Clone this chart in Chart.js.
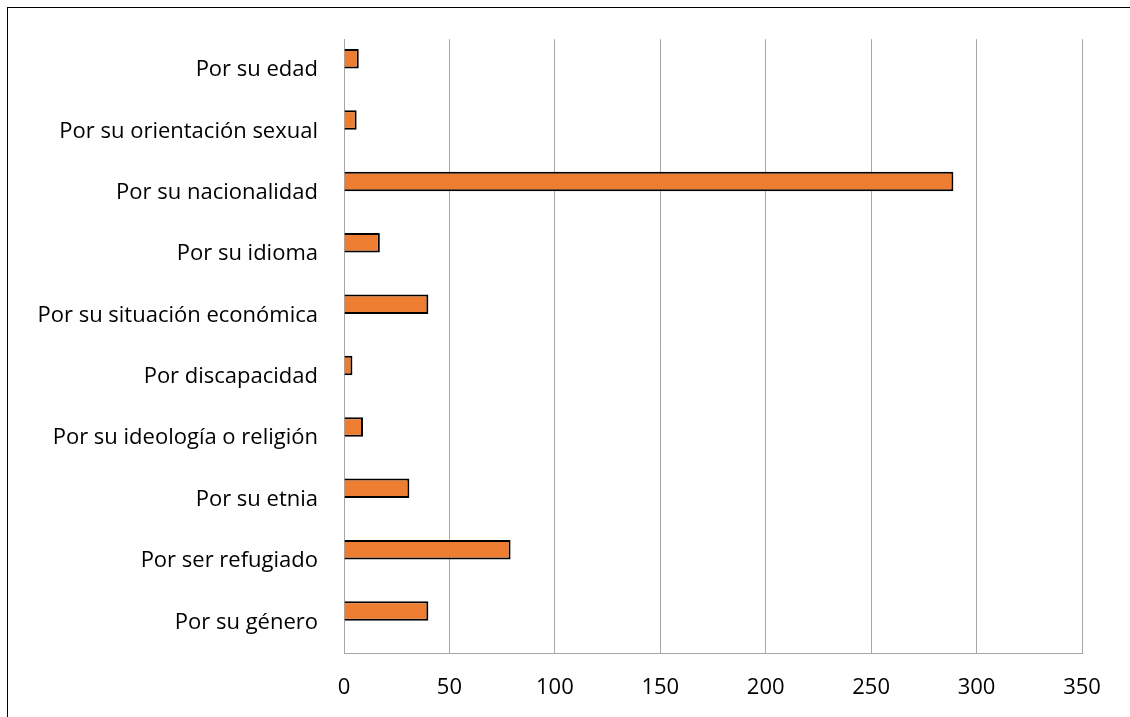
<!DOCTYPE html>
<html>
<head>
<meta charset="utf-8">
<script src="https://cdn.jsdelivr.net/npm/chart.js@4"></script>
<style>
  body { margin: 0; background: #fff; }
  #wrap { position: relative; width: 1130px; height: 717px; }
</style>
</head>
<body>
<div id="wrap"><canvas id="barChart" width="1130" height="717"></canvas></div>
<script>
const labels = [
  'Por su edad',
  'Por su orientación sexual',
  'Por su nacionalidad',
  'Por su idioma',
  'Por su situación económica',
  'Por discapacidad',
  'Por su ideología o religión',
  'Por su etnia',
  'Por ser refugiado',
  'Por su género'
];
const values = [7, 6, 289, 17, 40, 4, 9, 31, 79, 40];
const emptySeries = labels.map(() => null);
const axisTicks = [0, 50, 100, 150, 200, 250, 300, 350];

const font = { family: "'Open Sans', sans-serif", size: 22 };

// outer frame like the one round the original chart
const framePlugin = {
  id: 'frame',
  beforeDraw(chart) {
    const ctx = chart.ctx;
    ctx.save();
    ctx.fillStyle = '#fff';
    ctx.fillRect(0, 0, chart.width, chart.height);
    ctx.strokeStyle = '#000';
    ctx.lineWidth = 1;
    ctx.strokeRect(7.5, 7.5, chart.width + 10, chart.height + 10);
    ctx.restore();
  }
};

const barData = {
  labels: labels,
  datasets: [
    {
      label: 'Total',
      backgroundColor: '#ED7D31',
      borderColor: '#000',
      borderWidth: 2,
      data: values,
      categoryPercentage: 0.73,
      barPercentage: 0.87
    },
    {
      label: '',
      data: emptySeries,
      categoryPercentage: 0.73,
      barPercentage: 0.87
    }
  ]
};

const barConfig = {
  type: 'bar',
  data: barData,
  plugins: [framePlugin],
  options: {
    indexAxis: 'y',
    responsive: false,
    animation: false,
    layout: { padding: { top: 37, right: 48, left: 0, bottom: 0 } },
    plugins: { legend: { display: false }, tooltip: { enabled: false } },
    scales: {
      x: {
        min: 0,
        max: 350,
        afterBuildTicks: (scale) => { scale.ticks = axisTicks.map(v => ({ value: v })); },
        afterFit: (scale) => { scale.height = 64; },
        grid: { color: '#a6a6a6', lineWidth: 1, drawTicks: false },
        border: { color: '#a6a6a6', width: 1 },
        ticks: { color: '#000', font: font, padding: 22, maxRotation: 0 }
      },
      y: {
        afterFit: (scale) => { scale.width = 344; },
        grid: { display: false, drawTicks: false },
        border: { color: '#a6a6a6', width: 1 },
        ticks: { color: '#000', font: font, padding: 26, autoSkip: false }
      }
    }
  }
};

const barChart = new Chart(document.getElementById('barChart'), barConfig);
</script>
</body>
</html>
